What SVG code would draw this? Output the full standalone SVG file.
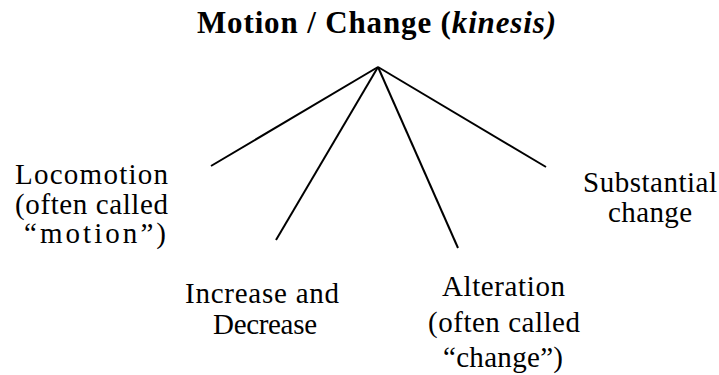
<svg xmlns="http://www.w3.org/2000/svg" width="719" height="375" viewBox="0 0 719 375">
<style>
text{font-family:"Liberation Serif","Times New Roman",serif;fill:#000;text-anchor:middle}
.t{font-size:31px;font-weight:bold}
.l{font-size:29px}
.c line{stroke:#000;stroke-width:2;stroke-linecap:butt}
</style>
<rect width="719" height="375" fill="#fff"/>
<g id="root"><text class="t" x="376.5" y="33" textLength="359" lengthAdjust="spacing">Motion / Change (<tspan font-style="italic">kinesis)</tspan></text></g>
<g class="c" id="connectors">
<line x1="378" y1="67" x2="211" y2="166"/>
<line x1="378" y1="67" x2="276" y2="240"/>
<line x1="378" y1="67" x2="458" y2="248"/>
<line x1="378" y1="67" x2="546" y2="167"/>
</g>
<g id="locomotion"><text class="l" x="91.5" y="184" textLength="153" lengthAdjust="spacing">Locomotion</text><text class="l" x="91.5" y="213.5" textLength="153" lengthAdjust="spacing">(often called</text><text class="l" x="95" y="242.5" textLength="142" lengthAdjust="spacing">“motion”)</text></g>
<g id="increase"><text class="l" x="262" y="303" textLength="154" lengthAdjust="spacing">Increase and</text><text class="l" x="265" y="334" textLength="104" lengthAdjust="spacing">Decrease</text></g>
<g id="alteration"><text class="l" x="503.5" y="296" textLength="123" lengthAdjust="spacing">Alteration</text><text class="l" x="504" y="332" textLength="152" lengthAdjust="spacing">(often called</text><text class="l" x="503" y="367" textLength="120" lengthAdjust="spacing">“change”)</text></g>
<g id="substantial"><text class="l" x="650" y="192" textLength="134" lengthAdjust="spacing">Substantial</text><text class="l" x="650" y="222" textLength="84" lengthAdjust="spacing">change</text></g>
</svg>
